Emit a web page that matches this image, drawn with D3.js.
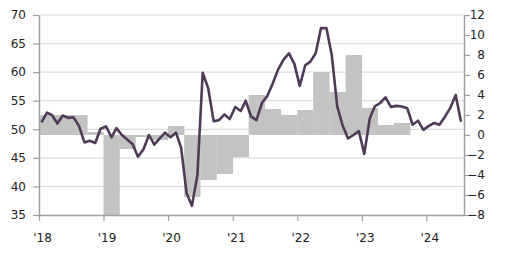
<!DOCTYPE html>
<html><head><meta charset="utf-8">
<script src="https://cdn.jsdelivr.net/npm/d3@7"></script>
<style>
html,body{margin:0;padding:0;background:#fff;}
svg{display:block;font-family:"DejaVu Sans",Verdana,sans-serif;}
.tick text{fill:#222;font-size:12px;}
</style></head>
<body><svg id="c" width="508" height="253"></svg>
<script>
// Monthly index (left axis), Jan 2018 – Jul 2024
const months = d3.range(79).map(i => new Date(2018, i, 15));
const indexValues = [
  51.2, 52.9, 52.5, 51.0, 52.4, 52.0, 52.1, 50.6, 47.7, 48.0, 47.6, 50.1,
  50.5, 48.6, 50.2, 49.0, 48.2, 47.4, 45.2, 46.5, 49.0, 47.3, 48.4, 49.4,
  48.6, 49.4, 46.8, 38.8, 36.6, 42.0, 59.9, 57.2, 51.4, 51.6, 52.6, 51.8,
  53.9, 53.2, 55.0, 52.2, 51.6, 54.6, 55.8, 58.0, 60.5, 62.2, 63.3, 61.5,
  57.6, 61.2, 61.8, 63.3, 67.7, 67.7, 63.0, 54.0, 50.6, 48.4, 49.0, 49.7,
  45.7, 51.9, 54.0, 54.6, 55.6, 53.9, 54.1, 54.0, 53.7, 50.8, 51.5, 49.9,
  50.6, 51.1, 50.8, 52.2, 53.7, 56.0, 51.3
];
// Quarterly values (right axis), 2018Q1 – 2023Q3
const quarters = d3.range(23).map(i => new Date(2018, i * 3, 1));
const quarterValues = [
  2.0, 2.0, 2.0, 0.3,
  -9.0, -1.4, -0.2, -0.5,
  0.9, -6.2, -4.5, -3.9,
  -2.2, 4.0, 2.6, 2.0,
  2.5, 6.3, 4.3, 8.0,
  2.7, 1.0, 1.2
];
const leftTicks = [35, 40, 45, 50, 55, 60, 65, 70];
const rightTicks = [-8, -6, -4, -2, 0, 2, 4, 6, 8, 10, 12];
const yearTicks = d3.range(2018, 2025).map(y => new Date(y, 0, 1));
const yearLabels = ["'18", "'19", "'20", "'21", "'22", "'23", "'24"];

const L = 39, R = 464, T = 15, B = 215;
const svg = d3.select("#c");
const x = d3.scaleTime().domain([new Date(2018, 0, 1), new Date(2024, 7, 1)]).range([L, R]);
const yL = d3.scaleLinear().domain([35, 70]).range([B, T]);
const yR = d3.scaleLinear().domain([-8, 12]).range([B, T]);

svg.append("defs").append("clipPath").attr("id", "clip")
  .append("rect").attr("x", L).attr("y", T).attr("width", R - L).attr("height", B - T);

// gridlines
svg.append("g").selectAll("line").data(leftTicks.filter(t => t > 35)).join("line")
  .attr("x1", L).attr("x2", R).attr("y1", d => yL(d)).attr("y2", d => yL(d))
  .attr("stroke", "#dcdcdc").attr("stroke-width", 1.2);

// bars
svg.append("g").attr("clip-path", "url(#clip)").selectAll("rect").data(quarters).join("rect")
  .attr("x", d => x(d))
  .attr("width", (d, i) => x(new Date(d.getFullYear(), d.getMonth() + 3, 1)) - x(d) + 0.3)
  .attr("y", (d, i) => yR(Math.max(0, quarterValues[i])))
  .attr("height", (d, i) => Math.abs(yR(quarterValues[i]) - yR(0)))
  .attr("fill", "#c3c3c3");

// line
svg.append("path").datum(indexValues)
  .attr("fill", "none").attr("stroke", "#4f3a58").attr("stroke-width", 2.6)
  .attr("stroke-linejoin", "round")
  .attr("d", d3.line().x((d, i) => x(months[i])).y(d => yL(d)));

const axisColor = "#a0a0a0";
function styleAxis(g) {
  g.selectAll(".domain").attr("stroke", axisColor).attr("stroke-width", 1.5);
  g.selectAll(".tick line").attr("stroke", axisColor).attr("stroke-width", 1.2);
}
svg.append("g").attr("transform", `translate(${L},0)`)
  .call(d3.axisLeft(yL).tickValues(leftTicks).tickSize(6).tickSizeOuter(0).tickPadding(7))
  .call(styleAxis).call(g => g.attr("font-family", null).attr("font-size", null));
const gr = svg.append("g").attr("transform", `translate(${R},0)`)
  .call(d3.axisRight(yR).tickValues(rightTicks).tickSize(6).tickSizeOuter(0).tickPadding(7))
  .call(styleAxis).call(g => g.attr("font-family", null).attr("font-size", null));
gr.selectAll(".tick text").attr("text-anchor", "end").attr("x", 21);
svg.append("g").attr("transform", `translate(0,${B})`)
  .call(d3.axisBottom(x).tickValues(yearTicks).tickFormat((d, i) => yearLabels[i]).tickSize(6).tickSizeOuter(0).tickPadding(12))
  .call(styleAxis).call(g => g.attr("font-family", null).attr("font-size", null))
  .selectAll(".tick text").attr("dx", 3);
</script></body></html>
